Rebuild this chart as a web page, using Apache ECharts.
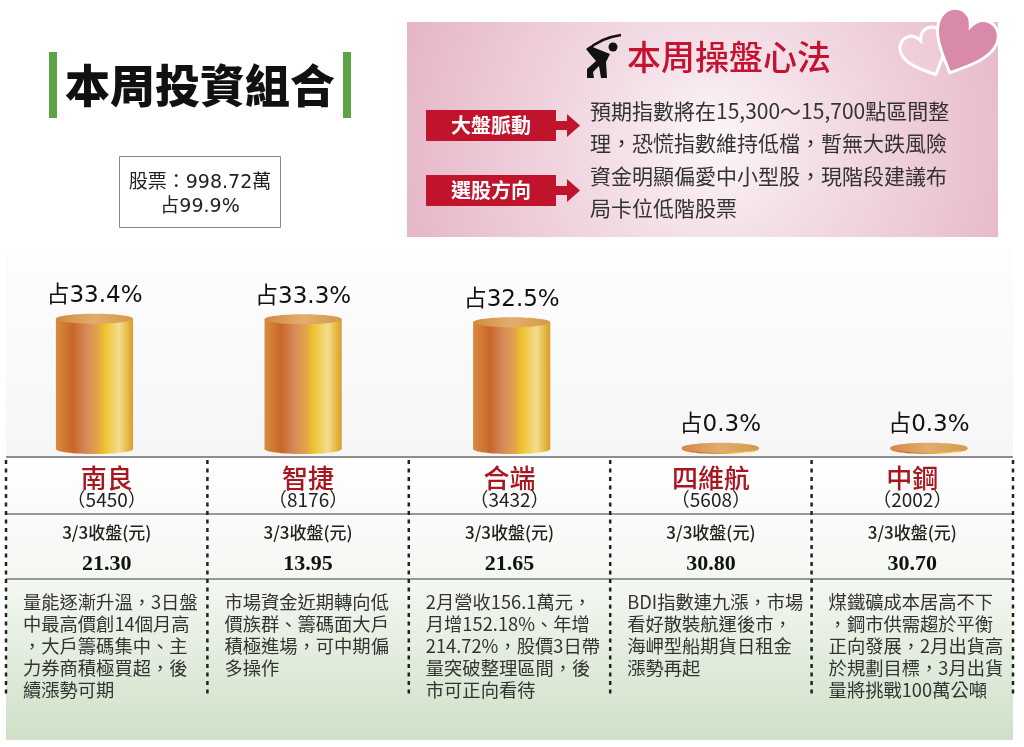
<!DOCTYPE html>
<html>
<head>
<meta charset="utf-8">
<title>本周投資組合</title>
<script src="https://cdn.jsdelivr.net/npm/echarts@6/dist/echarts.min.js"></script>
<style>
    html, body { margin: 0; padding: 0; background: #fff; }
    #chart { width: 1024px; height: 747px; }
</style>
</head>
<body>
<div id="chart"></div>
<script>
// 持股資料
var names = ['南良', '智捷', '合端', '四維航', '中鋼'];
var codes = ['5450', '8176', '3432', '5608', '2002'];
var shares = [33.4, 33.3, 32.5, 0.3, 0.3];     // 占比 %
var closes = ['21.30', '13.95', '21.65', '30.80', '30.70'];
var notes = [
    '量能逐漸升溫，3日盤\n中最高價創14個月高\n，大戶籌碼集中、主\n力券商積極買超，後\n續漲勢可期',
    '市場資金近期轉向低\n價族群、籌碼面大戶\n積極進場，可中期偏\n多操作',
    '2月營收156.1萬元，\n月增152.18%、年增\n214.72%，股價3日帶\n量突破整理區間，後\n市可正向看待',
    'BDI指數連九漲，市場\n看好散裝航運後市，\n海岬型船期貨日租金\n漲勢再起',
    '煤鐵礦成本居高不下\n，鋼市供需趨於平衡\n正向發展，2月出貨高\n於規劃目標，3月出貨\n量將挑戰100萬公噸'
];
var stockAmount = '998.72';
var stockShare = '99.9';
var tips = [
    { tag: '大盤脈動', lines: ['預期指數將在15,300～15,700點區間整', '理，恐慌指數維持低檔，暫無大跌風險'] },
    { tag: '選股方向', lines: ['資金明顯偏愛中小型股，現階段建議布', '局卡位低階股票'] }
];

var cjk = '"Noto Sans CJK TC", sans-serif';
var num = '"DejaVu Sans", "Noto Sans CJK TC", sans-serif';

var dom = document.getElementById('chart');
var myChart = echarts.init(dom);

// 圓柱漸層
var bodyFill = new echarts.graphic.LinearGradient(0, 0, 1, 0, [
    { offset: 0, color: '#d98a40' },
    { offset: 0.22, color: '#c9662a' },
    { offset: 0.4, color: '#d78c5e' },
    { offset: 0.55, color: '#e2a646' },
    { offset: 0.63, color: '#efc22c' },
    { offset: 0.82, color: '#f3dc8e' },
    { offset: 0.94, color: '#e6b43c' },
    { offset: 1, color: '#d79a34' }
]);
var capFill = new echarts.graphic.LinearGradient(0, 0, 1, 0, [
    { offset: 0, color: '#d28a44' },
    { offset: 0.5, color: '#e2ad6c' },
    { offset: 1, color: '#d49a4c' }
]);

function renderCylinder(params, api) {
    var i = api.value(0);
    var top = api.coord([i, api.value(1)]);
    var base = api.coord([i, 0]);
    var w = api.size([1, 0])[0] * 0.37;
    var rx = w / 2, ry = 5;
    return {
        type: 'group',
        children: [
            { type: 'ellipse', shape: { cx: top[0], cy: base[1], rx: rx, ry: ry }, style: { fill: bodyFill } },
            { type: 'rect', shape: { x: top[0] - rx, y: top[1], width: w, height: base[1] - top[1] }, style: { fill: bodyFill } },
            { type: 'ellipse', shape: { cx: top[0], cy: top[1], rx: rx, ry: ry }, style: { fill: capFill } },
            {
                type: 'text',
                x: top[0], y: top[1] - ry - 6,
                style: {
                    text: '占' + api.value(1) + '%',
                    font: '23px ' + num, fill: '#111',
                    align: 'center', verticalAlign: 'bottom',
                    textAlign: 'center', textVerticalAlign: 'bottom'
                }
            }
        ]
    };
}

var heartPath = 'M50,92 C22,68 0,48 0,26 C0,10 12,0 26,0 C38,0 46,8 50,18 C54,8 62,0 74,0 C88,0 100,10 100,26 C100,48 78,68 50,92 Z';

// 愛心與高爾夫圖示 (path 只能用在 custom series)
function renderDeco(params, api) {
    return {
        type: 'group',
        children: [
            {
                type: 'path', x: 896, y: 42, rotation: 0.42, scaleX: 0.46, scaleY: 0.5,
                shape: { pathData: heartPath },
                style: { fill: 'rgba(245,215,225,0.35)', stroke: '#fff', lineWidth: 6.5 }
            },
            {
                type: 'path', x: 947, y: 3, rotation: -0.42, scaleX: 0.62, scaleY: 0.68,
                shape: { pathData: heartPath },
                style: { fill: '#d98aab', stroke: '#fff', lineWidth: 4.5 }
            },
            { type: 'circle', shape: { cx: 613, cy: 47, r: 4.5 }, style: { fill: '#111' } },
            {
                type: 'path',
                shape: { pathData: 'M588,50 Q600,38 621,35' },
                style: { fill: null, stroke: '#111', lineWidth: 2.5 }
            },
            {
                type: 'path',
                shape: { pathData: 'M586,49 L590,46 L610,54 L606,62 L607,78 L601,78 L599,66 L593,72 L594,78 L587,78 L587,69 L596,61 L590,54 Z' },
                style: { fill: '#111' }
            }
        ]
    };
}

function txt(x, y, text, font, fill, align, valign, lineHeight) {
    return {
        type: 'text', x: x, y: y, z: 20,
        style: {
            text: text, font: font, fill: fill || '#222',
            align: align || 'center', verticalAlign: valign || 'middle',
            textAlign: align || 'center', textVerticalAlign: valign || 'middle',
            lineHeight: lineHeight
        }
    };
}

var graphics = [];

// 圖表區與表格底色
graphics.push({
    type: 'rect', z: 0,
    shape: { x: 6, y: 250, width: 1007, height: 207 },
    style: { fill: new echarts.graphic.LinearGradient(0, 0, 0, 1, [
        { offset: 0, color: '#fdfdfd' }, { offset: 1, color: '#f6f6f6' }]) }
});
graphics.push({
    type: 'rect', z: 0,
    shape: { x: 6, y: 457, width: 1007, height: 283 },
    style: { fill: new echarts.graphic.LinearGradient(0, 0, 0, 1, [
        { offset: 0, color: '#ffffff' }, { offset: 0.45, color: '#f3f7f1' }, { offset: 1, color: '#cfe0c7' }]) }
});

// 標題
graphics.push({ type: 'rect', z: 10, shape: { x: 49, y: 52, width: 8, height: 66 }, style: { fill: '#5ca345' } });
graphics.push({ type: 'rect', z: 10, shape: { x: 343, y: 52, width: 8, height: 66 }, style: { fill: '#5ca345' } });
graphics.push(txt(200, 86, '本周投資組合', '900 45px ' + cjk, '#111'));

// 股票總額框
graphics.push({ type: 'rect', z: 10, shape: { x: 119.5, y: 156.5, width: 161, height: 71 }, style: { fill: '#fff', stroke: '#888', lineWidth: 1 } });
graphics.push(txt(200, 183, '股票：' + stockAmount + '萬', '19px ' + num, '#222'));
graphics.push(txt(200, 207, '占' + stockShare + '%', '19px ' + num, '#222'));

// 操盤心法面板
graphics.push({
    type: 'rect', z: 5,
    shape: { x: 407, y: 22, width: 591, height: 215 },
    style: { fill: new echarts.graphic.RadialGradient(0.52, 0.55, 1.5, [
        { offset: 0, color: '#fcf6f8' }, { offset: 0.3, color: '#f4e0e8' }, { offset: 1, color: '#e6b6c7' }]) }
});
graphics.push(txt(627, 57, '本周操盤心法', '500 34px ' + cjk, '#c41230', 'left'));

tips.forEach(function (t, k) {
    var y0 = 110 + k * 65;
    graphics.push({ type: 'rect', z: 12, shape: { x: 426, y: y0, width: 130, height: 31 }, style: { fill: '#c0142c' } });
    graphics.push({
        type: 'polygon', z: 12,
        shape: { points: [[556, y0 + 11], [567, y0 + 11], [567, y0 + 4], [580, y0 + 15.5], [567, y0 + 27], [567, y0 + 20], [556, y0 + 20]] },
        style: { fill: '#c0142c' }
    });
    graphics.push(txt(491, y0 + 15.5, t.tag, 'bold 20px ' + cjk, '#fff'));
    t.lines.forEach(function (line, j) {
        graphics.push(txt(590, 111 + (k * 2 + j) * 32.4, line, '21px ' + cjk, '#333', 'left'));
    });
});

// 表格線
var colLeft = 6, colW = 201.4;
graphics.push({ type: 'line', z: 15, shape: { x1: 6, y1: 457, x2: 1013, y2: 457 }, style: { stroke: '#6a6a6a', lineWidth: 1.5 } });
graphics.push({ type: 'line', z: 15, shape: { x1: 6, y1: 514, x2: 1013, y2: 514 }, style: { stroke: '#777', lineWidth: 1.5 } });
graphics.push({ type: 'line', z: 15, shape: { x1: 6, y1: 579, x2: 1013, y2: 579 }, style: { stroke: '#777', lineWidth: 1.5 } });
for (var k = 0; k <= names.length; k++) {
    var lx = colLeft + k * colW;
    graphics.push({
        type: 'line', z: 16, shape: { x1: lx, y1: 460, x2: lx, y2: 698 },
        style: { stroke: '#222', lineWidth: 2.5, lineDash: [4, 4.5] }
    });
}

names.forEach(function (n, i) {
    var cx = colLeft + (i + 0.5) * colW;
    graphics.push(txt(cx, 478, n, '500 26px ' + cjk, '#a8161f'));
    graphics.push(txt(cx, 500, '（' + codes[i] + '）', '19px ' + cjk, '#222'));
    graphics.push(txt(cx, 533, '3/3收盤(元)', '500 17px ' + cjk, '#222'));
    graphics.push(txt(cx, 564, closes[i], 'bold 22px "Liberation Serif", serif', '#111'));
    graphics.push(txt(colLeft + i * colW + 17, 591, notes[i], '18.3px ' + cjk, '#333', 'left', 'top', 22));
});

var option = {
    animation: false,
    grid: { left: 0, width: 1024, top: 293, height: 156 },
    // 用數值軸讓柱子中心落在 94.5、303 ... 929
    xAxis: { type: 'value', min: -0.453, max: 4.456, show: false },
    yAxis: { type: 'value', min: 0, max: 40, show: false },
    graphic: graphics,
    series: [{
        type: 'custom',
        z: 8,
        renderItem: renderCylinder,
        data: shares.map(function (v, i) { return [i, v]; })
    }, {
        type: 'custom',
        coordinateSystem: 'none',
        z: 12,
        silent: true,
        renderItem: renderDeco,
        data: [[0]]
    }]
};
myChart.setOption(option, true);
</script>
</body>
</html>
